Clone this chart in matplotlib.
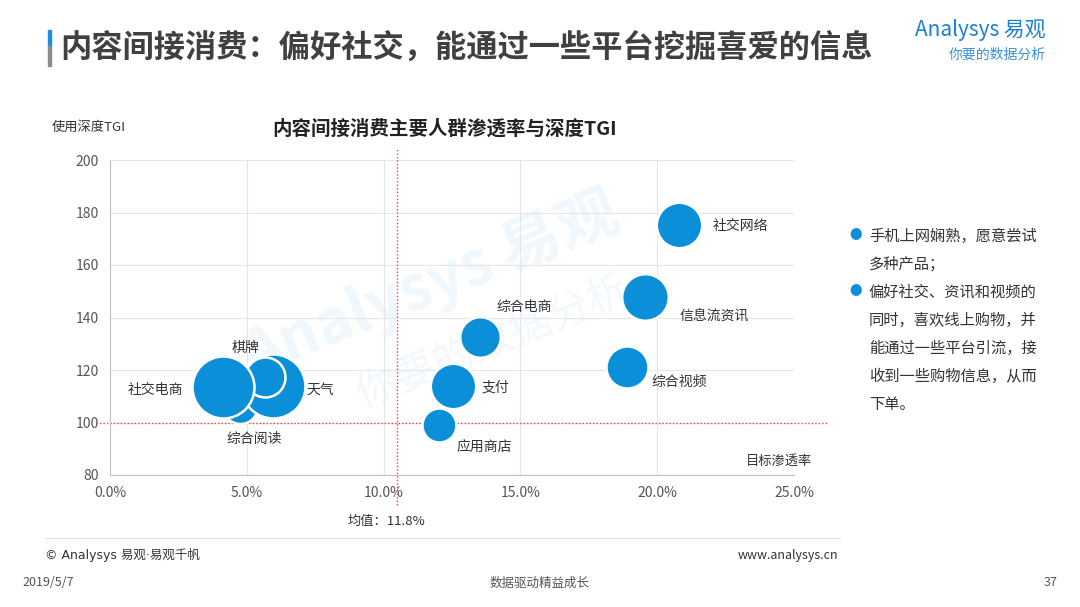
import numpy as np
import matplotlib.pyplot as plt
from matplotlib.patches import Rectangle
from matplotlib.lines import Line2D

plt.rcParams['font.family'] = ['Noto Sans CJK SC', 'DejaVu Sans']

# data
names = ['综合阅读', '天气', '棋牌', '社交电商', '社交网络', '信息流资讯',
         '综合电商', '综合视频', '支付', '应用商店']
penetration = [4.75, 5.96, 5.67, 4.13, 20.8, 19.55, 13.52, 18.88, 12.55, 12.04]
tgi = [106.3, 114.0, 117.3, 113.5, 175.2, 148.0, 132.7, 121.3, 114.0, 99.0]
bubble_r = [17.5, 32, 20, 31, 22.7, 23.3, 20.3, 21, 22.7, 17]  # radius, px
label_off = [(10, -24), (24, -3), (-14, 21), (-29, -2), (24, -1), (25, -14),
             (12, 21), (18, -11), (20, -1), (12, -16)]
label_ha = ['center', 'left', 'center', 'right', 'left', 'left',
            'left', 'left', 'left', 'left']
mean_x = 10.5
mean_y = 100
xticks = [0, 5, 10, 15, 20, 25]
yticks = [80, 100, 120, 140, 160, 180, 200]
notes = ['手机上网娴熟，愿意尝试', '多种产品；', '偏好社交、资讯和视频的',
         '同时，喜欢线上购物，并', '能通过一些平台引流，接',
         '收到一些购物信息，从而', '下单。']
bullet_rows = [0, 2]

blue = '#0B8FD9'
fig = plt.figure(figsize=(10.8, 6.07), dpi=100)
W, H = 1080, 607


def fx(px):
    return px / W


def fy(py):
    return 1 - py / H


# page title
fig.patches.append(Rectangle((fx(48), fy(46)), fx(3), 16 / H, color='#1a8fe0',
                             transform=fig.transFigure))
fig.patches.append(Rectangle((fx(48), fy(66)), fx(3), 20 / H, color='#8c8c8c',
                             transform=fig.transFigure))
fig.text(fx(60), fy(48), '内容间接消费：偏好社交，能通过一些平台挖掘喜爱的信息',
         fontsize=22.5, fontweight='bold', color='#404040', va='center')
fig.text(fx(1046), fy(30), 'Analysys 易观', fontsize=15, color='#1a7fd6',
         ha='right', va='center', style='italic')
fig.text(fx(1046), fy(55), '你要的数据分析', fontsize=10, color='#3d8fd6',
         ha='right', va='center', style='italic')

ax = fig.add_axes([fx(110), fy(475), fx(794) - fx(110), (475 - 160) / H])
ax.set_xlim(0, 25)
ax.set_ylim(80, 200)
ax.set_xticks(xticks)
ax.set_xticklabels(['%.1f%%' % v for v in xticks])
ax.set_yticks(yticks)
ax.tick_params(length=0, labelsize=10, colors='#555555', pad=8)
ax.grid(True, color='#e6e6e6', lw=0.8)
ax.set_axisbelow(True)
for s in ['top', 'right']:
    ax.spines[s].set_visible(False)
for s in ['left', 'bottom']:
    ax.spines[s].set_color('#bfbfbf')

# watermark
ax.text(0.47, 0.6, 'Analysys 易观', transform=ax.transAxes, fontsize=44,
        color='#f0f7fd', fontweight='bold', rotation=22, ha='center',
        va='center', style='italic', zorder=0)
ax.text(0.56, 0.42, '你要的数据分析', transform=ax.transAxes, fontsize=30,
        color='#f2f8fd', rotation=22, ha='center', va='center', zorder=0)

# mean lines
ax.add_line(Line2D([mean_x, mean_x], [68.6, 204.6], color='#e04848', lw=1.0,
                   ls=(0, (1, 1.5)), clip_on=False, zorder=1))
ax.add_line(Line2D([-0.5, 26.2], [mean_y, mean_y], color='#e04848', lw=1.0,
                   ls=(0, (1, 1.5)), clip_on=False, zorder=1))

for i in range(len(names)):
    s = (2 * bubble_r[i] * 0.72) ** 2
    ax.scatter(penetration[i], tgi[i], s=s, color=blue, edgecolors='white',
               linewidths=1.8, zorder=3 + i)
    ax.annotate(names[i], (penetration[i], tgi[i]), xytext=label_off[i],
                textcoords='offset points', ha=label_ha[i], va='center',
                fontsize=10, color='#333333', zorder=20)

fig.text(fx(445), fy(129), '内容间接消费主要人群渗透率与深度TGI', fontsize=14,
         fontweight='bold', color='#222222', ha='center', va='center')
fig.text(fx(52), fy(127), '使用深度TGI', fontsize=9.5, color='#333333',
         va='center')
fig.text(fx(812), fy(461), '目标渗透率', fontsize=9.5, color='#333333',
         ha='right', va='center')
fig.text(fx(386), fy(521), '均值：11.8%', fontsize=9.5, color='#333333',
         ha='center', va='center')

# right notes
for k, line in enumerate(notes):
    y = 236 + 28 * k
    if k in bullet_rows:
        fig.text(fx(849), fy(y), '●', fontsize=9, color=blue, va='center')
    fig.text(fx(869), fy(y), line, fontsize=11, color='#333333', va='center')

# footer
fig.lines.append(Line2D([fx(45), fx(840)], [fy(538), fy(538)], color='#e0e0e0',
                        lw=0.8, transform=fig.transFigure))
fig.text(fx(45), fy(555), '© Analysys 易观·易观千帆', fontsize=9,
         color='#333333', va='center', family=['DejaVu Sans', 'Noto Sans CJK SC'])
fig.text(fx(838), fy(555), 'www.analysys.cn', fontsize=9, color='#333333',
         ha='right', va='center')
fig.text(fx(22), fy(583), '2019/5/7', fontsize=9, color='#555555', va='center')
fig.text(fx(540), fy(583), '数据驱动精益成长', fontsize=9, color='#555555',
         ha='center', va='center')
fig.text(fx(1058), fy(583), '37', fontsize=9, color='#555555', ha='right',
         va='center')

fig.savefig('out.png', dpi=100)
